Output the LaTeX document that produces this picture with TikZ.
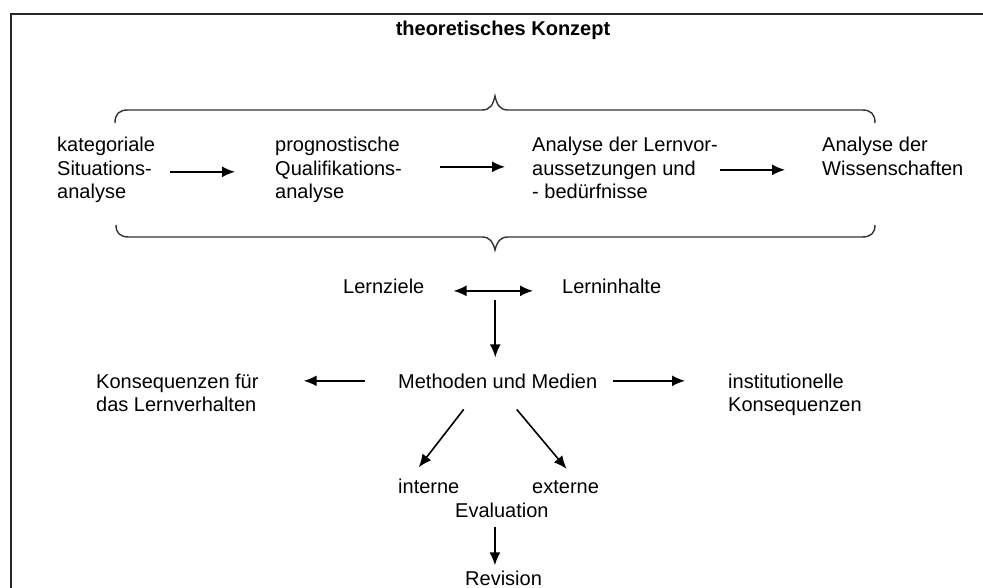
\documentclass[tikz,border=0pt]{standalone}
\usepackage{fontspec}
\setmainfont{Liberation Sans}
\usetikzlibrary{arrows.meta,calc}
\begin{document}
\begin{tikzpicture}[x=1pt,y=-1pt,
  txt/.style={anchor=base west,inner sep=0pt,align=left,text=black,font=\fontsize{20pt}{23.5pt}\selectfont},
  arr/.style={line width=1.6pt,draw=black,-{Latex[length=13pt,width=11pt]}},
  darr/.style={line width=1.6pt,draw=black,{Latex[length=13pt,width=11pt]}-{Latex[length=13pt,width=11pt]}},
  brace/.style={line width=1.4pt,draw=black!80},
  frame/.style={line width=1.4pt,draw=black!85}]
\useasboundingbox (0,0) rectangle (983,588);
% frame
\draw[frame] (11,590) -- (11,14) -- (985,14);
% title
\node[txt,anchor=base,font=\fontsize{20pt}{23.5pt}\selectfont\bfseries] (title) at (503,36) {theoretisches Konzept};
% braces
\draw[brace] (115,123) .. controls (115,114) and (119,110) .. (128,110) -- (482,110)
  .. controls (490,110) and (493,105) .. (495,96) .. controls (497,105) and (500,110) .. (508,110)
  -- (862,110) .. controls (871,110) and (875,114) .. (875,123);
\draw[brace] (116,225) .. controls (116,233) and (120,237) .. (129,237) -- (482,237)
  .. controls (490,237) and (493,242) .. (495,250) .. controls (497,242) and (500,237) .. (508,237)
  -- (862,237) .. controls (871,237) and (875,233) .. (875,225);
% top row (base anchor = last line)
\node[txt] (ks) at (57,199) {kategoriale\\Situations-\\analyse};
\node[txt] (pq) at (275,199) {prognostische\\Qualifikations-\\analyse};
\node[txt] (al) at (532,199) {Analyse der Lernvor-\\aussetzungen und\\- bedürfnisse};
\node[txt] (aw) at (822,175.5) {Analyse der\\Wissenschaften};
% middle
\node[txt] (lz) at (343,294) {Lernziele};
\node[txt] (li) at (562,294) {Lerninhalte};
\node[txt] (mm) at (398,388) {Methoden und Medien};
\node[txt] (kl) at (96,411.5) {Konsequenzen für\\das Lernverhalten};
\node[txt] (ik) at (728,411.5) {institutionelle\\Konsequenzen};
\node[txt] (int) at (398,493) {interne};
\node[txt] (ext) at (532,493) {externe};
\node[txt] (ev) at (455,517) {Evaluation};
\node[txt] (rev) at (465,585) {Revision};
\coordinate (lm) at ($(lz.east)!0.5!(li.west)$);
% arrows
\draw[arr] ([xshift=15pt,yshift=-1.5pt]ks.east) -- ([xshift=-40pt,yshift=-1.5pt]pq.west |- ks.east);
\draw[arr] ([xshift=38pt,yshift=3.5pt]pq.east) -- ([xshift=-27pt,yshift=3.5pt]al.west |- pq.east);
\draw[arr] ([xshift=2pt,yshift=-1.5pt]al.east) -- ([xshift=-37pt,yshift=-1.5pt]aw.west |- al.east);
\draw[darr] ([xshift=29pt,yshift=-4pt]lz.east) -- ([xshift=-29pt,yshift=-4pt]li.west);
\draw[arr] ([xshift=2pt,yshift=-13pt]lm) -- ([xshift=2pt,yshift=16pt]lm |- mm.north);
\draw[arr] ([xshift=-33pt]mm.west) -- ([xshift=45pt]kl.east |- mm.west);
\draw[arr] ([xshift=16pt]mm.east) -- ([xshift=-43pt]ik.west |- mm.east);
\draw[arr] ([xshift=-34pt,yshift=-21pt]mm.south) -- ([xshift=-10pt,yshift=11pt]int.north);
\draw[arr] ([xshift=19pt,yshift=-21pt]mm.south) -- ([xshift=1pt,yshift=11pt]ext.north);
\draw[arr] ([xshift=-7pt,yshift=-10pt]ev.south) -- ([xshift=-7pt,yshift=5pt]ev.south |- rev.north);
\end{tikzpicture}
\end{document}
